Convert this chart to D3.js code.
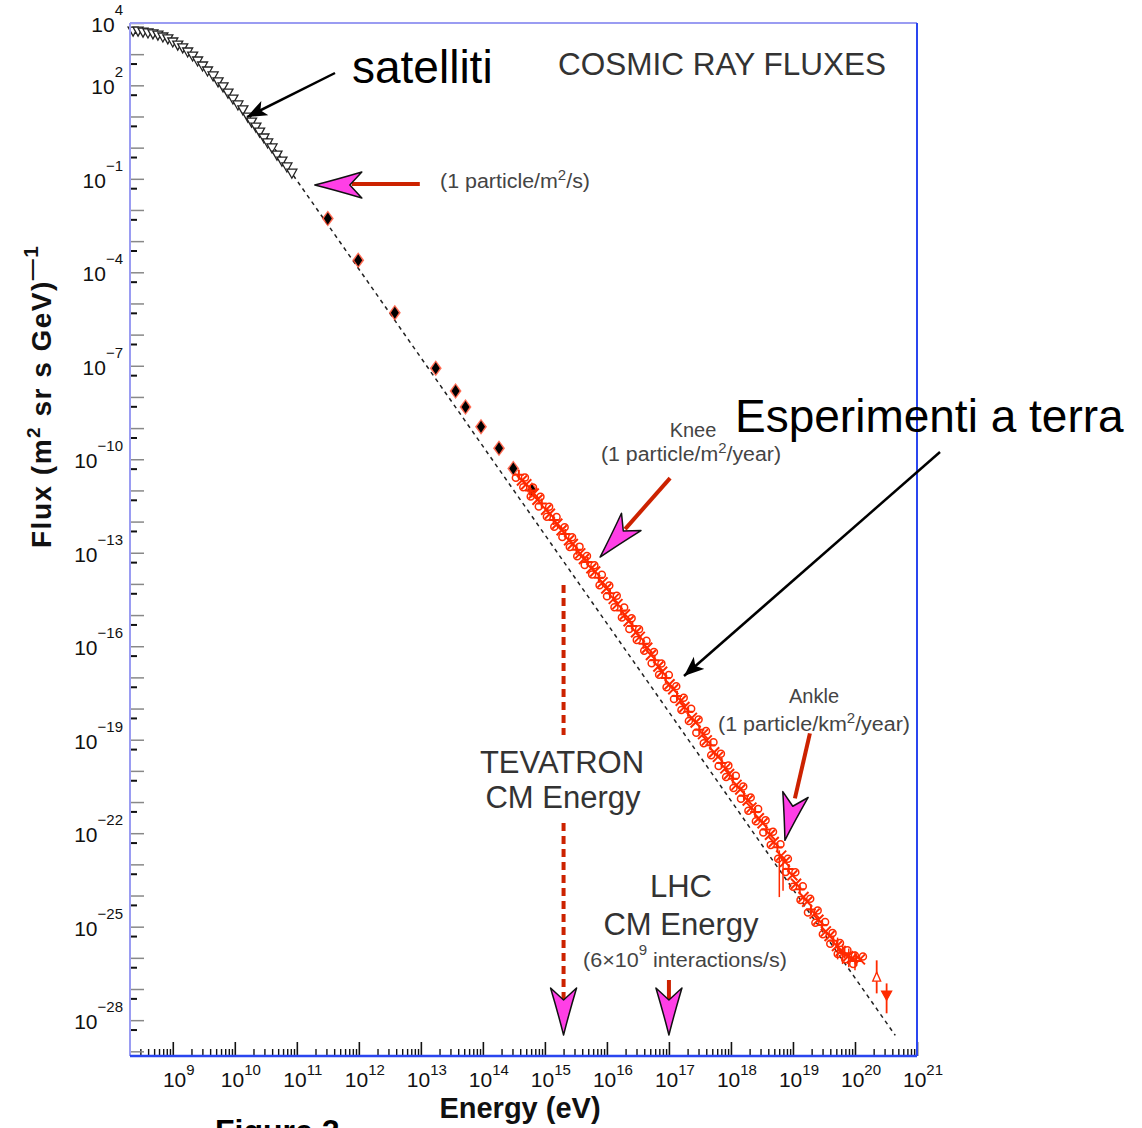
<!DOCTYPE html>
<html>
<head>
<meta charset="utf-8">
<script src="https://cdn.jsdelivr.net/npm/d3@7"></script>
<style>
body { margin: 0; background: #fff; }
svg { display: block; font-family: "Liberation Sans", Arial, sans-serif; }
</style>
</head>
<body>
<svg id="chart" width="1142" height="1128"></svg>
<script>
// values, as log10(E / eV) and log10(flux)
var satLogE = [8.36, 8.44, 8.52, 8.60, 8.68, 8.76, 8.84, 8.92, 9.00, 9.08, 9.16, 9.24, 9.32, 9.40, 9.48, 9.56, 9.65, 9.73, 9.81, 9.89, 9.97, 10.05, 10.13, 10.21, 10.27, 10.34, 10.40, 10.47, 10.53, 10.60, 10.68, 10.76, 10.84, 10.92];
var satLogFlux = [3.74, 3.74, 3.71, 3.68, 3.65, 3.61, 3.55, 3.49, 3.39, 3.29, 3.20, 3.07, 2.94, 2.78, 2.62, 2.46, 2.30, 2.11, 1.95, 1.75, 1.56, 1.37, 1.21, 0.98, 0.82, 0.66, 0.50, 0.31, 0.15, -0.01, -0.24, -0.43, -0.62, -0.82];

var diaLogE = [11.50, 11.99, 12.58, 13.24, 13.56, 13.72, 13.97, 14.26, 14.49, 14.79];
var diaLogFlux = [-2.27, -3.61, -5.30, -7.08, -7.81, -8.32, -8.96, -9.65, -10.30, -10.99];

var groundLogE = [14.58, 14.63, 14.70, 14.76, 14.82, 14.88, 14.95, 15.02, 15.08, 15.14, 15.20, 15.27, 15.33, 15.39, 15.45, 15.51, 15.57, 15.63, 15.69, 15.75,
    15.81, 15.87, 15.93, 15.99, 16.05, 16.11, 16.17, 16.23, 16.29, 16.35, 16.41, 16.47, 16.53, 16.59, 16.65, 16.71, 16.77, 16.83, 16.89, 16.95,
    17.01, 17.07, 17.13, 17.19, 17.25, 17.31, 17.37, 17.43, 17.49, 17.55, 17.61, 17.67, 17.73, 17.79, 17.85, 17.91, 17.97, 18.03, 18.09, 18.15,
    18.21, 18.27, 18.33, 18.39, 18.45, 18.51, 18.57, 18.63, 18.69, 18.75, 18.81, 18.87, 18.93, 18.99, 19.05, 19.11, 19.17, 19.23, 19.29, 19.35,
    19.41, 19.47, 19.53, 19.59, 19.65, 19.71, 19.77, 19.83, 19.89, 19.95, 20.02, 20.08];
var groundLogFlux = [-10.50, -10.68, -10.80, -11.00, -11.10, -11.30, -11.42, -11.62, -11.75, -11.95, -12.07, -12.28, -12.40, -12.60, -12.72, -12.90, -13.02, -13.20, -13.30, -13.50,
    -13.60, -13.80, -13.95, -14.15, -14.30, -14.48, -14.65, -14.85, -14.98, -15.20, -15.35, -15.55, -15.70, -15.92, -16.05, -16.28, -16.45, -16.65, -16.82, -17.02,
    -17.22, -17.38, -17.60, -17.75, -17.95, -18.10, -18.30, -18.45, -18.68, -18.82, -19.02, -19.18, -19.40, -19.55, -19.75, -19.92, -20.10, -20.25, -20.45, -20.60,
    -20.80, -20.95, -21.18, -21.32, -21.52, -21.68, -21.88, -22.05, -22.28, -22.45, -22.72, -22.92, -23.15, -23.35, -23.62, -23.80, -24.05, -24.20, -24.45, -24.58,
    -24.78, -24.95, -25.15, -25.30, -25.45, -25.62, -25.78, -25.85, -25.95, -26.02, -26.10, -26.05];

var errLogE = [18.78, 18.84, 19.72, 19.80, 19.90, 20.00];
var errLogHi = [-22.55, -22.75, -25.35, -25.55, -25.70, -25.80];
var errLogLo = [-24.05, -23.85, -26.05, -26.20, -26.30, -26.40];

var uheLogE = [20.35, 20.51];
var uheLogFlux = [-26.62, -27.20];
var uheLogHi = [-26.08, -26.82];
var uheLogLo = [-27.14, -27.78];

var fitLogE = [10.5, 20.65];
var fitLogFlux = [0.37, -28.49];

var xLabelExp = [9, 10, 11, 12, 13, 14, 15, 16, 17, 18, 19, 20, 21];
var yLabelExp = [4, 2, -1, -4, -7, -10, -13, -16, -19, -22, -25, -28];

function p10(v){ return Math.pow(10, v); }

var margin = {top: 23, right: 225, bottom: 72, left: 130};
var width = 787;
var height = 1033;

var svg = d3.select("#chart");
var chart = svg.append("g")
    .attr("transform", "translate(" + margin.left + "," + margin.top + ")");

var xChart = d3.scaleLog().domain([p10(8.31), 1e21]).range([0, width]);
var yChart = d3.scaleLog().domain([1e4, p10(-29.15)]).range([0, height]);

// ticks
var xMajor = d3.range(9, 22).map(p10);
var xMinor = [];
for (var e = 8; e <= 20; e++) {
    for (var m = 2; m <= 9; m++) {
        var v = m * p10(e);
        if (v > p10(8.31) && v < 1e21) xMinor.push(v);
    }
}
var yMajor = d3.range(-29, 5).map(p10);
var yMinor = d3.range(-29, 5).map(function(k){ return 0.5 * p10(k); }).filter(function(v){ return v > p10(-29.15) && v < 1e4; });

function styleAxis(g, color, w) {
    g.select(".domain").remove();
    g.selectAll("line").attr("stroke", color).attr("stroke-width", w);
}

chart.append("g").attr("transform", "translate(0," + height + ")")
    .call(d3.axisBottom(xChart).tickValues(xMinor).tickSize(-7).tickFormat(""))
    .call(styleAxis, "#111", 1.4);
chart.append("g").attr("transform", "translate(0," + height + ")")
    .call(d3.axisBottom(xChart).tickValues(xMajor).tickSize(-14).tickFormat(""))
    .call(styleAxis, "#111", 1.6);
chart.append("g")
    .call(d3.axisLeft(yChart).tickValues(yMajor).tickSize(-14).tickFormat(""))
    .call(styleAxis, "#888", 1.5);
chart.append("g")
    .call(d3.axisLeft(yChart).tickValues(yMinor).tickSize(-7).tickFormat(""))
    .call(styleAxis, "#111", 2);

// tick labels
function expText(d){ return d < 0 ? "\u2212" + (-d) : String(d); }

chart.append("g").selectAll("text")
    .data(xLabelExp).enter().append("text")
    .attr("x", function(d){ return xChart(p10(d)) + 6; })
    .attr("y", height + 31)
    .attr("text-anchor", "middle")
    .attr("font-size", 21)
    .attr("fill", "#111")
    .each(function(d){
        var t = d3.select(this);
        t.append("tspan").text("10");
        t.append("tspan").attr("dy", -12).attr("font-size", 15).text(expText(d));
    });

chart.append("g").selectAll("text")
    .data(yLabelExp).enter().append("text")
    .attr("x", -7)
    .attr("y", function(d){ return yChart(p10(d)) + 9; })
    .attr("text-anchor", "end")
    .attr("font-size", 21)
    .attr("fill", "#111")
    .each(function(d){
        var t = d3.select(this);
        t.append("tspan").text("10");
        t.append("tspan").attr("dy", -17).attr("font-size", 15).text(expText(d));
    });

// fit line
var fitLine = d3.line()
    .x(function(d){ return xChart(p10(d[0])); })
    .y(function(d){ return yChart(p10(d[1])); });
chart.append("path")
    .datum(d3.zip(fitLogE, fitLogFlux))
    .attr("d", fitLine)
    .attr("fill", "none")
    .attr("stroke", "#222")
    .attr("stroke-width", 1.5)
    .attr("stroke-dasharray", "4,4");

// satellite data: open down triangles
chart.append("g").selectAll("path")
    .data(d3.zip(satLogE, satLogFlux)).enter().append("path")
    .attr("transform", function(d){ return "translate(" + xChart(p10(d[0])) + "," + yChart(p10(d[1])) + ")"; })
    .attr("d", "M-5,-4L5,-4L0,5Z")
    .attr("fill", "#fff")
    .attr("stroke", "#222")
    .attr("stroke-width", 1.3);

// balloon data: black diamonds with red halo
var dia = chart.append("g").selectAll("g")
    .data(d3.zip(diaLogE, diaLogFlux)).enter().append("g")
    .attr("transform", function(d){ return "translate(" + xChart(p10(d[0])) + "," + yChart(p10(d[1])) + ")"; });
dia.append("path").attr("d", "M0,-8L6,0L0,8L-6,0Z").attr("fill", "#ff3a1a").attr("opacity", 0.75);
dia.append("path").attr("d", "M0,-6L4,0L0,6L-4,0Z").attr("fill", "#000");

// ground experiments: red crosses and circles
var red = "#ff2a00";
chart.append("g").selectAll("line")
    .data(d3.range(errLogE.length)).enter().append("line")
    .attr("x1", function(i){ return xChart(p10(errLogE[i])); })
    .attr("x2", function(i){ return xChart(p10(errLogE[i])); })
    .attr("y1", function(i){ return yChart(p10(errLogHi[i])); })
    .attr("y2", function(i){ return yChart(p10(errLogLo[i])); })
    .attr("stroke", red).attr("stroke-width", 1.5);

var gp = chart.append("g").selectAll("g")
    .data(d3.zip(groundLogE, groundLogFlux)).enter().append("g")
    .attr("transform", function(d){ return "translate(" + xChart(p10(d[0])) + "," + yChart(p10(d[1])) + ")"; });
gp.append("path")
    .attr("d", function(d, i){ return i % 3 === 0 ? "M-5,0L5,0M0,-5L0,5" : "M-5,-5L5,5M-5,5L5,-5"; })
    .attr("stroke", red).attr("stroke-width", 2).attr("fill", "none");
gp.append("circle")
    .attr("cx", function(d, i){ return i % 2 ? 3 : -3; })
    .attr("cy", function(d, i){ return i % 2 ? -3 : 3; })
    .attr("r", 3.5)
    .attr("fill", "none").attr("stroke", red).attr("stroke-width", 1.5);

// highest energy points
chart.append("g").selectAll("line")
    .data(d3.range(uheLogE.length)).enter().append("line")
    .attr("x1", function(i){ return xChart(p10(uheLogE[i])); })
    .attr("x2", function(i){ return xChart(p10(uheLogE[i])); })
    .attr("y1", function(i){ return yChart(p10(uheLogHi[i])); })
    .attr("y2", function(i){ return yChart(p10(uheLogLo[i])); })
    .attr("stroke", red).attr("stroke-width", 1.8);
chart.append("g").selectAll("path")
    .data(d3.range(uheLogE.length)).enter().append("path")
    .attr("transform", function(i){ return "translate(" + xChart(p10(uheLogE[i])) + "," + yChart(p10(uheLogFlux[i])) + ")"; })
    .attr("d", function(i){ return i === 0 ? "M-4,4L4,4L0,-5Z" : "M-5,-4L5,-4L0,5Z"; })
    .attr("fill", function(i){ return i === 0 ? "#fff" : red; })
    .attr("stroke", red).attr("stroke-width", 1.3);

// frame
chart.append("line").attr("x1", 0).attr("x2", width).attr("y1", 0).attr("y2", 0).attr("stroke", "#9a9cf2").attr("stroke-width", 2);
chart.append("line").attr("x1", 0).attr("x2", 0).attr("y1", 0).attr("y2", height).attr("stroke", "#9a9cf2").attr("stroke-width", 2);
chart.append("line").attr("x1", width).attr("x2", width).attr("y1", 0).attr("y2", height).attr("stroke", "#2a46f0").attr("stroke-width", 2);
chart.append("line").attr("x1", 0).attr("x2", width).attr("y1", height).attr("y2", height).attr("stroke", "#2a46f0").attr("stroke-width", 2.5);

// annotations
var shaft = "#cc2200";
var pink = "#ff3fe6";
function dart(tx, ty, angle) {
    chart.append("path")
        .attr("transform", "translate(" + tx + "," + ty + ") rotate(" + angle + ")")
        .attr("d", "M0,0Q-20,-5 -47,-13L-35,0L-47,13Q-20,5 0,0Z")
        .attr("fill", pink)
        .attr("stroke", "#111")
        .attr("stroke-width", 1.5)
        .attr("stroke-linejoin", "round");
}
function redLine(x1, y1, x2, y2, dash) {
    chart.append("line")
        .attr("x1", x1).attr("y1", y1).attr("x2", x2).attr("y2", y2)
        .attr("stroke", shaft).attr("stroke-width", 4)
        .attr("stroke-dasharray", dash || null);
}

// 1 particle / m2 / s
var ax = xChart(p10(11.29)), ay = yChart(p10(-1.2));
redLine(ax + 105, ay - 1, ax + 37, ay - 1);
dart(ax, ay, 180);

// knee
var kx = xChart(p10(15.89)), ky = yChart(p10(-13.14));
redLine(kx + 70, ky - 79, kx + 25, ky - 28);
dart(kx, ky, 131.5);

// ankle
var nx = xChart(p10(18.87)), ny = yChart(p10(-22.23));
redLine(nx + 25, ny - 107, nx + 10, ny - 42);
dart(nx, ny, 103);

// tevatron and lhc
var tevX = xChart(2e15), lhcX = xChart(1e17);
redLine(tevX, 562, tevX, 712, "8,5");
redLine(tevX, 800, tevX, 978, "8,5");
dart(tevX, height - 21, 90);
redLine(lhcX, 957, lhcX, 982);
dart(lhcX, height - 21, 90);

// texts inside the plot
var small = "#444";
function label(x, y, size, color, anchor) {
    return svg.append("text").attr("x", x).attr("y", y)
        .attr("font-size", size).attr("fill", color)
        .attr("text-anchor", anchor || "middle");
}
label(722, 75, 31.5, "#333").text("COSMIC RAY FLUXES");

var t1 = label(515, 188, 20, small).attr("textLength", 150).attr("lengthAdjust", "spacingAndGlyphs");
t1.append("tspan").text("(1 particle/m");
t1.append("tspan").attr("dy", -8).attr("font-size", 14).text("2");
t1.append("tspan").attr("dy", 8).text("/s)");

label(693, 437, 20, small).text("Knee");
var t2 = label(691, 461, 20, small).attr("textLength", 180).attr("lengthAdjust", "spacingAndGlyphs");
t2.append("tspan").text("(1 particle/m");
t2.append("tspan").attr("dy", -8).attr("font-size", 14).text("2");
t2.append("tspan").attr("dy", 8).text("/year)");

label(814, 703, 20, small).text("Ankle");
var t3 = label(814, 731, 20, small).attr("textLength", 192).attr("lengthAdjust", "spacingAndGlyphs");
t3.append("tspan").text("(1 particle/km");
t3.append("tspan").attr("dy", -8).attr("font-size", 14).text("2");
t3.append("tspan").attr("dy", 8).text("/year)");

label(562, 773, 31, "#333").text("TEVATRON");
label(563, 808, 31, "#333").text("CM Energy");
label(681, 897, 31, "#333").text("LHC");
label(681, 935, 31, "#333").text("CM Energy");
var t4 = label(685, 967, 20, small).attr("textLength", 204).attr("lengthAdjust", "spacingAndGlyphs");
t4.append("tspan").text("(6\u00d710");
t4.append("tspan").attr("dy", -12).attr("font-size", 14).text("9");
t4.append("tspan").attr("dy", 12).text(" interactions/s)");

// axis titles
var yt = svg.append("text")
    .attr("transform", "translate(51,548) rotate(-90)")
    .attr("font-size", 28).attr("font-weight", "bold").attr("fill", "#111")
    .attr("letter-spacing", 1.5);
yt.append("tspan").text("Flux (m");
yt.append("tspan").attr("dy", -11).attr("font-size", 19).text("2");
yt.append("tspan").attr("dy", 11).text(" sr s GeV)");
yt.append("tspan").attr("dy", -13).attr("font-size", 21).text("\u20141");

label(520, 1118, 29, "#111").attr("font-weight", "bold").text("Energy (eV)");
label(215, 1142, 32, "#000", "start").attr("font-weight", "bold").text("Figure 2");

// italian annotations with black arrows
svg.append("defs").append("marker")
    .attr("id", "head")
    .attr("markerUnits", "userSpaceOnUse")
    .attr("markerWidth", 22).attr("markerHeight", 18)
    .attr("refX", 20).attr("refY", 8)
    .attr("orient", "auto")
    .append("path").attr("d", "M0,0L20,8L0,16L5,8Z").attr("fill", "#000");

label(352, 83, 46, "#000", "start").text("satelliti");
svg.append("line").attr("x1", 335).attr("y1", 73).attr("x2", 247).attr("y2", 117)
    .attr("stroke", "#000").attr("stroke-width", 2.5).attr("marker-end", "url(#head)");

label(735, 432, 46, "#000", "start").text("Esperimenti a terra");
svg.append("line").attr("x1", 940).attr("y1", 452).attr("x2", 684).attr("y2", 676)
    .attr("stroke", "#000").attr("stroke-width", 2.5).attr("marker-end", "url(#head)");
</script>
</body>
</html>
